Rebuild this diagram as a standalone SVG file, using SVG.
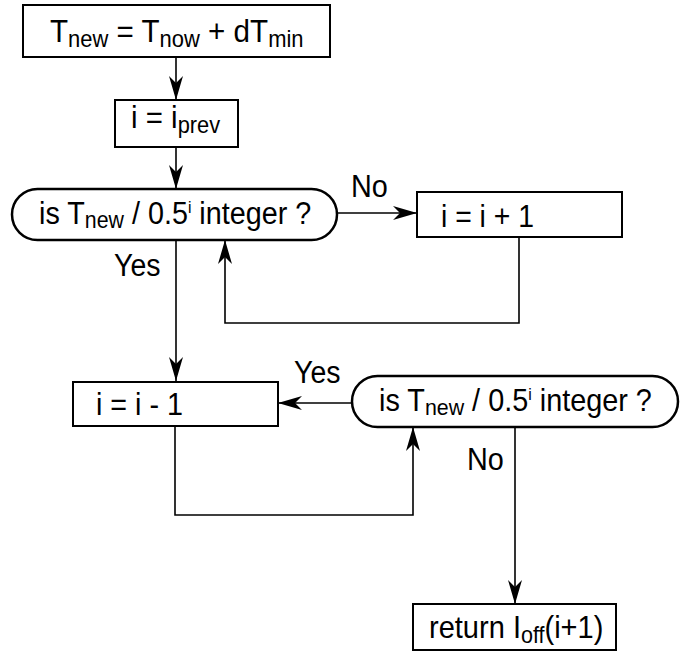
<svg xmlns="http://www.w3.org/2000/svg" width="687" height="652" viewBox="0 0 687 652">
  <style>
    .box { fill: #fff; stroke: #000; stroke-width: 2; }
    .pill { fill: #fff; stroke: #000; stroke-width: 2.5; }
    .wire { fill: none; stroke: #000; stroke-width: 1.6; marker-end: url(#head); }
    text { font-family: "Liberation Sans", Arial, Helvetica, sans-serif; font-size: 31px; fill: #000; }
    .sub { font-size: 23px; }
    .sup { font-size: 17px; }
  </style>
  <defs>
    <marker id="head" markerUnits="userSpaceOnUse" viewBox="0 0 24 14" refX="24" refY="7" markerWidth="24" markerHeight="14" orient="auto">
      <path d="M0,0 L24,7 L0,14 L7,7 Z" fill="#000"/>
    </marker>
  </defs>
  <rect width="687" height="652" fill="#fff"/>

  <!-- connectors and branch labels -->
  <g id="connectors">
    <path class="wire" d="M176,57 V100"/>
    <path class="wire" d="M176,147 V189"/>
    <path class="wire" d="M337,213 H417"/>
    <path class="wire" d="M519,237 V323 H225 V240"/>
    <path class="wire" d="M176,240 V381"/>
    <path class="wire" d="M352,403 H278"/>
    <path class="wire" d="M175,426 V515 H413 V427"/>
    <path class="wire" d="M515,427 V604"/>
    <text transform="translate(351,197) scale(0.93,1)">No</text>
    <text transform="translate(114,276) scale(0.92,1)">Yes</text>
    <text transform="translate(294,383) scale(0.92,1)">Yes</text>
    <text transform="translate(467,470) scale(0.93,1)">No</text>
  </g>

  <g id="init">
    <rect class="box" x="23" y="5" width="307" height="52"/>
    <text transform="translate(50,42) scale(0.955,1)">T<tspan class="sub" dy="5">new</tspan><tspan dy="-5"> = T</tspan><tspan class="sub" dy="5">now</tspan><tspan dy="-5"> + dT</tspan><tspan class="sub" dy="5">min</tspan></text>
  </g>

  <g id="set-prev">
    <rect class="box" x="115" y="100" width="123" height="47"/>
    <text transform="translate(131,128) scale(0.95,1)">i = i<tspan class="sub" dy="5">prev</tspan></text>
  </g>

  <g id="check-up">
    <rect class="pill" x="12" y="189" width="325" height="51" rx="25.5"/>
    <text transform="translate(39,224) scale(0.928,1)">is T<tspan class="sub" dy="4">new</tspan><tspan dy="-4"> / 0.5</tspan><tspan class="sup" dy="-11">i</tspan><tspan dy="11"> integer ?</tspan></text>
  </g>

  <g id="increment">
    <rect class="box" x="417" y="192" width="205" height="45"/>
    <text transform="translate(441,227) scale(0.915,1)">i = i + 1</text>
  </g>

  <g id="decrement">
    <rect class="box" x="73" y="382" width="205" height="44"/>
    <text transform="translate(96,415) scale(0.927,1)">i = i - 1</text>
  </g>

  <g id="check-down">
    <rect class="pill" x="352" y="376" width="326" height="51" rx="25.5"/>
    <text transform="translate(379,411) scale(0.93,1)">is T<tspan class="sub" dy="4">new</tspan><tspan dy="-4"> / 0.5</tspan><tspan class="sup" dy="-11">i</tspan><tspan dy="11"> integer ?</tspan></text>
  </g>

  <g id="result">
    <rect class="box" x="413" y="604" width="203" height="46"/>
    <text transform="translate(429,638) scale(0.937,1)">return I<tspan class="sub" dy="5">off</tspan><tspan dy="-5">(i+1)</tspan></text>
  </g>
</svg>
